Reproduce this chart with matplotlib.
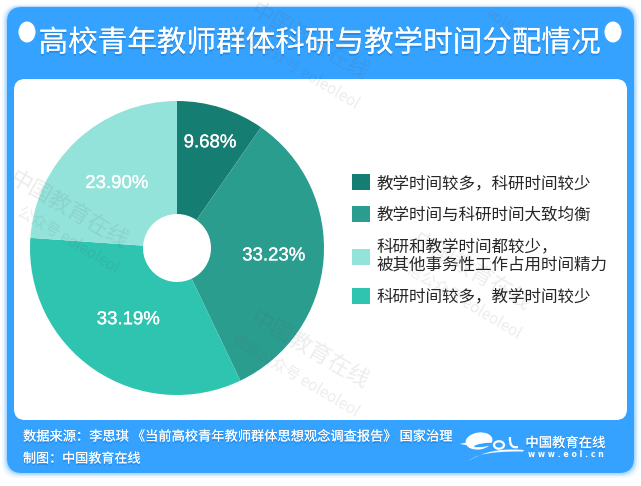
import numpy as np
import matplotlib
matplotlib.use('Agg')
import matplotlib.pyplot as plt
import matplotlib.patheffects as pe
from matplotlib.patches import FancyBboxPatch, Ellipse, PathPatch
from matplotlib.path import Path

plt.rcParams['font.family'] = ['Noto Sans CJK SC', 'DejaVu Sans']

# Data
title = '高校青年教师群体科研与教学时间分配情况'
slice_names = ['教学时间较多，科研时间较少',
               '教学时间与科研时间大致均衡',
               '科研时间较多，教学时间较少',
               '科研和教学时间都较少，\n被其他事务性工作占用时间精力']
slice_values = [9.68, 33.23, 33.19, 23.90]
slice_colors = ['#167d72', '#2b9d8f', '#2ec4b0', '#93e3da']
label_radius = [0.75, 0.66, 0.59, 0.60]
legend_order = [0, 1, 3, 2]
source_text = '数据来源：李思琪 《当前高校青年教师群体思想观念调查报告》 国家治理'
credit_text = '制图：中国教育在线'
BLUE = '#36a2ff'

W, H = 641, 486
fig = plt.figure(figsize=(W / 100, H / 100), dpi=100, facecolor='white')

# background layer in pixel coords
bg = fig.add_axes([0, 0, 1, 1], zorder=0)
bg.set_xlim(0, W)
bg.set_ylim(H, 0)
bg.axis('off')

def round_box(ax, x0, y0, x1, y1, r, **kw):
    p = FancyBboxPatch((x0 + r, y0 + r), x1 - x0 - 2 * r, y1 - y0 - 2 * r,
                       boxstyle=f'round,pad={r},rounding_size={r}', lw=0, **kw)
    ax.add_patch(p)
    return p

# soft shadow under the card
for grow, a in [(5, 0.08), (3, 0.14), (1.5, 0.25)]:
    round_box(bg, 7 - grow, 7 - grow / 2, 634 + grow, 473 + grow, 16, fc=BLUE, alpha=a)
round_box(bg, 7, 7, 634, 473, 15, fc=BLUE)
round_box(bg, 14, 79, 627, 420, 11, fc='white')

for cx in [27, 613]:
    bg.add_patch(Ellipse((cx, 32), 17, 21, fc='white', lw=0))

shadow = [pe.withSimplePatchShadow(offset=(0, -1.5), shadow_rgbFace='#0a5fb0', alpha=0.35),
          pe.Normal()]
bg.text(320, 43, title, color='white', fontsize=21.3, weight='medium', ha='center', va='center',
        path_effects=shadow)
bg.text(23, 437, source_text, color='white', fontsize=9.53, ha='left', va='center',
        path_effects=shadow)
bg.text(23, 459, credit_text, color='white', fontsize=9.4, ha='left', va='center',
        path_effects=shadow)

# logo, e / o / l and the swoosh under them
bg.add_patch(Ellipse((479, 441), 27, 17, angle=-8, fc='white', lw=0))
bg.add_patch(Ellipse((484, 445), 20, 3.5, angle=-8, fc=BLUE, lw=0))
bg.add_patch(PathPatch(Path([(460, 444), (466, 442), (470, 443), (466, 445), (460, 444)],
                            [Path.MOVETO, Path.CURVE3, Path.CURVE3, Path.LINETO, Path.CLOSEPOLY]),
                       fc='white', lw=0))
bg.add_patch(Ellipse((499, 445), 10, 7.5, fc='none', ec='white', lw=1.6))
bg.add_patch(PathPatch(Path([(510, 437), (509, 449), (518, 447)],
                            [Path.MOVETO, Path.CURVE3, Path.CURVE3]),
                       fc='none', ec='white', lw=1.6))
swoosh = Path([(468, 461), (490, 447), (524, 450), (523, 451.5), (495, 451), (480, 455), (468, 461)],
              [Path.MOVETO, Path.CURVE3, Path.CURVE3, Path.LINETO, Path.CURVE3, Path.CURVE3, Path.CLOSEPOLY])
bg.add_patch(PathPatch(swoosh, fc='white', lw=0))
bg.text(565.5, 443, '中国教育在线', color='white', fontsize=9.6, weight='medium',
        ha='center', va='center', path_effects=shadow)
bg.text(565.5, 454, 'w w w . e o l . c n', color='white', fontsize=5.6, weight='bold',
        family='DejaVu Sans', ha='center', va='center')

# pie
cx, cy, R = 177, 248, 147
ax = fig.add_axes([(cx - R) / W, 1 - (cy + R) / H, 2 * R / W, 2 * R / H], zorder=1)
wedges, _ = ax.pie(slice_values, colors=slice_colors, startangle=90, counterclock=False,
                   radius=1, wedgeprops=dict(width=1 - 34 / 147, lw=0))
ax.set_xlim(-1, 1)
ax.set_ylim(-1, 1)

for w, v, r in zip(wedges, slice_values, label_radius):
    ang = np.deg2rad((w.theta1 + w.theta2) / 2)
    ax.text(r * np.cos(ang), r * np.sin(ang), f'{v:.2f}%', color='white', fontsize=13.4,
            family='Liberation Sans', ha='center', va='center',
            path_effects=[pe.withStroke(linewidth=0.2, foreground='white')])

leg = fig.legend([wedges[i] for i in legend_order],
                 [slice_names[i] for i in legend_order],
                 loc='center left', bbox_to_anchor=(352 / W, 1 - 240 / H),
                 frameon=False, fontsize=11.9, labelcolor='#262626',
                 handlelength=1.06, handleheight=1.1, handletextpad=0.43,
                 labelspacing=0.87, borderpad=0, borderaxespad=0)
for t in leg.get_texts():
    t.set_linespacing(1.1)

# watermarks on top, faint
top = fig.add_axes([0, 0, 1, 1], zorder=2)
top.set_xlim(0, W)
top.set_ylim(H, 0)
top.axis('off')
top.patch.set_alpha(0)
wm_main = '中国教育在线'
wm_sub = '微信公众号 eoleoleol'
marks = [(310, 350), (310, 42), (472, 272)]
for mx, my in marks:
    top.text(mx, my, wm_main, color='#555555', alpha=0.11, fontsize=16, weight='medium',
             rotation=-30, rotation_mode='anchor', ha='center', va='center')
    top.text(mx - 15, my + 25, wm_sub, color='#555555', alpha=0.11, fontsize=11,
             rotation=-31, rotation_mode='anchor', ha='center', va='center')
# the left one loses its first characters at the card edge
top.text(69, 210, wm_main, color='#555555', alpha=0.11, fontsize=16, weight='medium',
         rotation=-30, rotation_mode='anchor', ha='center', va='center')
top.text(68, 240, '公众号 eoleoleol', color='#555555', alpha=0.11, fontsize=11,
         rotation=-31, rotation_mode='anchor', ha='center', va='center')
# tail of the watermark running off the top edge
top.text(505, 23, 'eoleol', color='#555555', alpha=0.11, fontsize=11,
         rotation=-31, rotation_mode='anchor', ha='center', va='center')

fig.savefig('out.png', dpi=100)
